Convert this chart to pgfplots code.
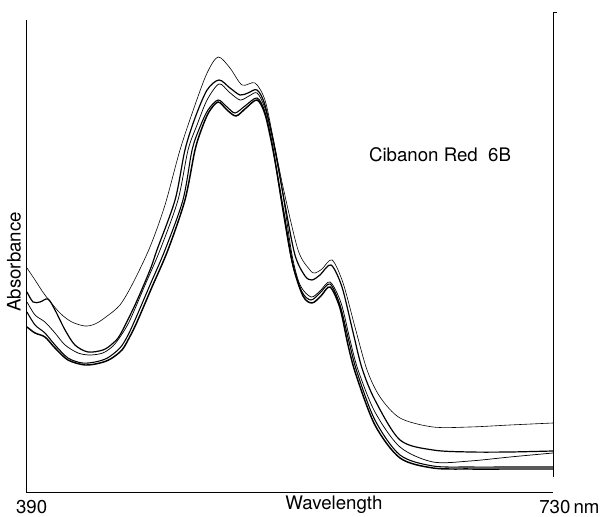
\documentclass[border=0pt]{standalone}
\usepackage{fontspec}
\setmainfont{TeX Gyre Heros}
\usepackage{pgfplots}
\pgfplotsset{compat=1.18}

\begin{document}
\begin{tikzpicture}
  % page = 601 x 517 px, 1 px = 0.75 pt, axis origin at px (27,493)
  \useasboundingbox (-20.25pt,-18pt) rectangle (430.5pt,369.75pt);
  \begin{axis}[
      scale only axis,
      width=394.5pt, height=360pt,
      xmin=390, xmax=730, ymin=0, ymax=4.80,
      axis lines=none, clip=false,
      every axis plot/.append style={black, smooth, no marks}]
    % top curve, thin
    \addplot[line width=0.45pt] coordinates {
      (390.0,2.25) (395.2,2.13) (401.6,1.98) (411.3,1.80) (419.0,1.71) (427.5,1.67)
      (434.0,1.69) (441.0,1.76) (450.1,1.88) (458.5,2.10) (469.5,2.46) (479.2,2.88)
      (488.9,3.43) (498.6,3.88) (506.4,4.20) (513.5,4.36) (521.2,4.25) (529.0,4.08)
      (537.4,4.10) (543.8,3.93) (549.0,3.56) (555.5,3.06) (565.2,2.43) (572.9,2.23)
      (576.2,2.20) (580.7,2.24) (587.2,2.33) (594.3,2.10) (602.0,1.66) (609.8,1.23)
      (618.2,0.96) (631.1,0.75) (652.4,0.66) (676.4,0.66) (702.2,0.68) (730.0,0.70)};
    % second curve
    \addplot[line width=0.9pt] coordinates {
      (390.0,2.01) (393.9,1.91) (398.4,1.91) (403.6,1.94) (408.1,1.83) (414.6,1.63)
      (421.0,1.48) (429.4,1.41) (439.1,1.43) (445.0,1.49) (450.1,1.58) (459.8,1.88)
      (469.5,2.23) (474.0,2.43) (485.7,2.93) (492.1,3.43) (498.6,3.75) (506.4,4.03)
      (514.1,4.13) (521.2,4.05) (527.7,3.98) (532.8,4.00) (538.7,4.03) (543.8,3.88)
      (550.3,3.43) (556.8,2.88) (563.2,2.38) (569.7,2.17) (574.2,2.13) (579.4,2.18)
      (586.5,2.28) (593.6,2.06) (600.7,1.61) (606.5,1.25) (614.9,0.93) (631.1,0.53)
      (652.4,0.43) (676.4,0.41) (702.2,0.41) (730.0,0.42)};
    % third curve
    \addplot[line width=0.55pt] coordinates {
      (390.0,1.91) (395.2,1.78) (401.6,1.71) (408.1,1.60) (414.6,1.48) (423.0,1.40)
      (430.7,1.38) (439.0,1.40) (445.6,1.47) (451.0,1.58) (456.6,1.73) (466.3,2.08)
      (476.0,2.43) (487.6,2.93) (494.1,3.43) (499.9,3.68) (506.4,3.93) (514.1,4.09)
      (520.6,4.01) (527.7,3.93) (533.5,3.97) (538.7,4.00) (543.8,3.85) (549.0,3.53)
      (555.5,2.98) (561.3,2.38) (566.5,2.08) (573.6,1.96) (579.4,2.02) (585.9,2.11)
      (593.0,1.90) (598.8,1.53) (604.0,1.23) (614.9,0.81) (631.1,0.46) (652.4,0.31)
      (676.4,0.32) (702.2,0.36) (730.0,0.40)};
    % fourth curve
    \addplot[line width=0.8pt] coordinates {
      (390.0,1.81) (395.2,1.68) (401.6,1.60) (408.1,1.48) (416.5,1.35) (425.6,1.30)
      (434.0,1.31) (442.0,1.35) (450.1,1.45) (455.0,1.57) (459.8,1.73) (469.5,2.08)
      (479.2,2.43) (490.8,2.93) (496.7,3.43) (501.8,3.66) (507.0,3.83) (513.5,3.93)
      (519.3,3.86) (524.5,3.80) (530.9,3.87) (538.7,3.95) (543.8,3.81) (549.0,3.45)
      (554.8,2.88) (561.3,2.31) (567.8,2.01) (573.6,1.93) (579.4,2.00) (585.9,2.09)
      (592.3,1.88) (598.2,1.51) (603.3,1.21) (614.9,0.73) (631.1,0.38) (652.4,0.27)
      (676.4,0.26) (702.2,0.26) (730.0,0.26)};
    % bottom curve, heavy
    \addplot[line width=1.1pt] coordinates {
      (390.0,1.66) (395.2,1.60) (401.6,1.56) (408.1,1.45) (416.5,1.33) (427.5,1.28)
      (437.2,1.30) (444.0,1.34) (451.4,1.43) (456.0,1.55) (461.1,1.71) (470.8,2.06)
      (481.1,2.43) (492.1,2.93) (498.6,3.43) (503.1,3.65) (507.6,3.81) (513.5,3.91)
      (519.3,3.83) (525.1,3.77) (531.6,3.85) (538.7,3.93) (543.8,3.79) (549.0,3.43)
      (555.5,2.85) (561.9,2.28) (568.4,1.97) (574.2,1.90) (580.0,1.97) (585.9,2.06)
      (592.3,1.85) (597.5,1.48) (602.7,1.18) (614.9,0.68) (631.1,0.35) (652.4,0.25)
      (676.4,0.24) (702.2,0.24) (730.0,0.24)};
    % frame
    \draw[line width=0.75pt] (axis cs:390,4.73) -- (axis cs:390,0) -- (axis cs:730,0);
    \draw[line width=0.75pt] (axis cs:730,0.16) -- (axis cs:730,4.80) -- (axis cs:732.4,4.80);
    % texts
    \node[font=\fontsize{14}{16}\selectfont, rotate=90] at (axis cs:381.6,2.31) {Absorbance};
    \node[font=\fontsize{14}{16}\selectfont] at (axis cs:393,-0.14) {390};
    \node[font=\fontsize{14}{16}\selectfont] at (axis cs:588.4,-0.12) {Wavelength};
    \node[font=\fontsize{14}{16}\selectfont, anchor=west, inner sep=0pt] at (axis cs:721.0,-0.14) {730\,nm};
    \node[font=\fontsize{14}{16}\selectfont] at (axis cs:657,3.38) {Cibanon Red\ \ 6B};
  \end{axis}
\end{tikzpicture}
\end{document}
